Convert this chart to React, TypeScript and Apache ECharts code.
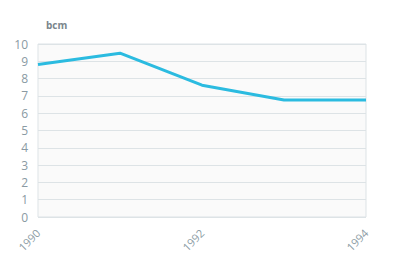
import React, { useEffect, useRef } from "react";
import * as echarts from "echarts";

const years = ["1990", "1991", "1992", "1993", "1994"];
const values = [8.82, 9.47, 7.62, 6.76, 6.76];
const unitName = "bcm";

export default function App() {
  const ref = useRef<HTMLDivElement>(null);
  useEffect(() => {
    const chart = echarts.init(ref.current!, undefined, { renderer: "svg" });
    chart.setOption({
      animation: false,
      textStyle: { fontFamily: "Open Sans" },
      grid: {
        left: 38,
        right: 27,
        top: 44,
        bottom: 41,
        show: true,
        backgroundColor: "#fafafa",
        borderColor: "#dde3e6",
        borderWidth: 1,
      },
      xAxis: {
        type: "category",
        data: years,
        boundaryGap: false,
        axisLine: { show: false },
        axisTick: { show: false },
        axisLabel: {
          interval: 1,
          rotate: 45,
          color: "#8a9aa3",
          fontSize: 11,
          margin: 14,
        },
        splitLine: { show: false },
      },
      yAxis: {
        type: "value",
        min: 0,
        max: 10,
        interval: 1,
        name: unitName,
        nameLocation: "end",
        nameGap: 14,
        nameTextStyle: {
          color: "#7a868c",
          fontSize: 10,
          fontWeight: "bold",
          align: "left",
          padding: [0, 0, 0, 8],
        },
        axisLine: { show: false },
        axisTick: { show: false },
        axisLabel: { color: "#8a9aa3", fontSize: 12, margin: 10 },
        splitLine: { lineStyle: { color: "#dde3e6", width: 1 } },
      },
      series: [
        {
          type: "line",
          data: values,
          symbol: "none",
          lineStyle: { color: "#2bbbe0", width: 3 },
          itemStyle: { color: "#2bbbe0" },
        },
      ],
    });
    return () => chart.dispose();
  }, []);
  return <div ref={ref} style={{ width: 393, height: 258, margin: -8 }} />;
}
